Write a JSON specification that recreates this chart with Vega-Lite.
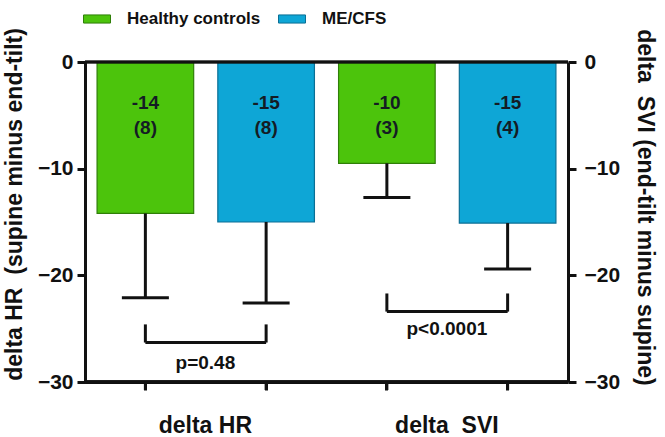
{
  "$schema": "https://vega.github.io/schema/vega-lite/v6.json",
  "width": 483,
  "height": 320,
  "autosize": {"type": "none"},
  "padding": {"left": 85, "top": 62, "right": 97, "bottom": 55},
  "background": "white",
  "config": {
    "font": "Liberation Sans",
    "view": {"stroke": null},
    "axis": {
      "domainColor": "#111",
      "domainWidth": 3,
      "tickColor": "#111",
      "tickWidth": 3,
      "tickSize": 8,
      "labelFont": "Liberation Sans",
      "labelFontSize": 21,
      "labelFontWeight": "bold",
      "labelColor": "#111",
      "titleFont": "Liberation Sans",
      "titleFontSize": 23,
      "titleFontWeight": "bold",
      "titleColor": "#111",
      "grid": false
    }
  },
  "datasets": {
    "bars": [
      {"bar": "HC_HR", "group": "Healthy controls", "measure": "delta HR", "mean": -14.2, "lower": -22.1, "label": "-14", "n": "(8)"},
      {"bar": "ME_HR", "group": "ME/CFS", "measure": "delta HR", "mean": -15.0, "lower": -22.6, "label": "-15", "n": "(8)"},
      {"bar": "HC_SVI", "group": "Healthy controls", "measure": "delta SVI", "mean": -9.5, "lower": -12.7, "label": "-10", "n": "(3)"},
      {"bar": "ME_SVI", "group": "ME/CFS", "measure": "delta SVI", "mean": -15.1, "lower": -19.4, "label": "-15", "n": "(4)"}
    ],
    "brackets": [
      {"from": "HC_HR", "to": "ME_HR", "top": -24.6, "bottom": -26.3, "p": "p=0.48", "py": -28.2},
      {"from": "HC_SVI", "to": "ME_SVI", "top": -21.7, "bottom": -23.4, "p": "p<0.0001", "py": -25.0}
    ]
  },
  "resolve": {"axis": {"y": "independent"}},
  "layer": [
    {
      "data": {"name": "bars"},
      "mark": {"type": "bar", "strokeWidth": 1.2},
      "encoding": {
        "x": {
          "field": "bar", "type": "nominal",
          "scale": {"type": "band", "domain": ["HC_HR", "ME_HR", "HC_SVI", "ME_SVI"], "paddingInner": 0.2, "paddingOuter": 0.1},
          "axis": {
            "title": null,
            "domain": true,
            "ticks": true,
            "labelAngle": 0,
            "labelExpr": "datum.value == 'HC_HR' ? 'delta HR' : datum.value == 'HC_SVI' ? 'delta\u00a0 SVI' : ''",
            "labelOffset": 60,
            "labelPadding": 24,
            "labelFontSize": 23
          }
        },
        "y": {
          "field": "mean", "type": "quantitative",
          "scale": {"domain": [-30, 0], "nice": false, "zero": true, "clamp": false},
          "axis": {
            "orient": "left",
            "values": [0, -10, -20, -30],
            "title": "delta HR\u00a0 (supine minus end-tilt)",
            "titlePadding": 11,
            "titleY": 142,
            "labelPadding": 4
          }
        },
        "color": {
          "field": "group", "type": "nominal",
          "scale": {"domain": ["Healthy controls", "ME/CFS"], "range": ["#4cc40c", "#0ea6d6"]},
          "legend": {
            "orient": "none",
            "legendX": -2,
            "legendY": -57,
            "direction": "horizontal",
            "title": null,
            "symbolType": "M-1,-0.3H1V0.3H-1Z",
            "symbolSize": 729,
            "symbolStrokeColor": "#333",
            "symbolStrokeWidth": 1,
            "symbolOpacity": 1,
            "labelFontSize": 17,
            "labelFontWeight": "bold",
            "labelColor": "#111",
            "labelOffset": 16,
            "columnPadding": 15
          }
        },
        "stroke": {
          "field": "group", "type": "nominal",
          "scale": {"domain": ["Healthy controls", "ME/CFS"], "range": ["#2f7f08", "#0a6f95"]},
          "legend": null
        }
      }
    },
    {
      "data": {"name": "bars"},
      "mark": {"type": "text", "fontSize": 19, "fontWeight": "bold", "color": "#141c24"},
      "encoding": {
        "x": {"field": "bar", "type": "nominal"},
        "y": {"datum": -3.8, "type": "quantitative", "axis": null},
        "text": {"field": "label"}
      }
    },
    {
      "data": {"name": "bars"},
      "mark": {"type": "text", "fontSize": 19, "fontWeight": "bold", "color": "#141c24"},
      "encoding": {
        "x": {"field": "bar", "type": "nominal"},
        "y": {"datum": -6.2, "type": "quantitative", "axis": null},
        "text": {"field": "n"}
      }
    },
    {
      "data": {"name": "bars"},
      "mark": {"type": "rule", "strokeWidth": 3, "color": "#111"},
      "encoding": {
        "x": {"field": "bar", "type": "nominal"},
        "y": {"field": "mean", "type": "quantitative", "axis": null},
        "y2": {"field": "lower"}
      }
    },
    {
      "data": {"name": "bars"},
      "mark": {"type": "tick", "thickness": 3, "size": 47, "color": "#111", "opacity": 1},
      "encoding": {
        "x": {"field": "bar", "type": "nominal"},
        "y": {
          "field": "lower", "type": "quantitative",
          "axis": {
            "orient": "right",
            "values": [0, -10, -20, -30],
            "title": "delta\u00a0 SVI (end-tilt minus supine)",
            "titlePadding": 13,
            "titleY": 145,
            "labelPadding": 8
          }
        }
      }
    },
    {
      "data": {"name": "bars"},
      "mark": {"type": "rule", "strokeWidth": 3, "color": "#111", "clip": false},
      "encoding": {
        "x": {"field": "bar", "type": "nominal"},
        "y": {"datum": -30, "type": "quantitative", "axis": null},
        "y2": {"datum": -30.75}
      }
    },
    {
      "data": {"name": "bars"},
      "mark": {"type": "rule", "strokeWidth": 3, "color": "#111"},
      "encoding": {
        "y": {"datum": -30, "type": "quantitative", "axis": null}
      }
    },
    {
      "data": {"name": "brackets"},
      "mark": {"type": "rule", "strokeWidth": 3, "color": "#111"},
      "encoding": {
        "x": {"field": "from", "type": "nominal"},
        "y": {"field": "top", "type": "quantitative", "axis": null},
        "y2": {"field": "bottom"}
      }
    },
    {
      "data": {"name": "brackets"},
      "mark": {"type": "rule", "strokeWidth": 3, "color": "#111"},
      "encoding": {
        "x": {"field": "to", "type": "nominal"},
        "y": {"field": "top", "type": "quantitative", "axis": null},
        "y2": {"field": "bottom"}
      }
    },
    {
      "data": {"name": "brackets"},
      "mark": {"type": "rule", "strokeWidth": 3, "color": "#111"},
      "encoding": {
        "x": {"field": "from", "type": "nominal"},
        "x2": {"field": "to"},
        "y": {"field": "bottom", "type": "quantitative", "axis": null}
      }
    },
    {
      "data": {"name": "brackets"},
      "mark": {"type": "text", "fontSize": 19, "fontWeight": "bold", "color": "#111", "dx": 60},
      "encoding": {
        "x": {"field": "from", "type": "nominal"},
        "y": {"field": "py", "type": "quantitative", "axis": null},
        "text": {"field": "p"}
      }
    },
    {
      "data": {"name": "bars"},
      "mark": {"type": "rule", "strokeWidth": 2.5, "color": "#111"},
      "encoding": {
        "y": {"datum": 0, "type": "quantitative", "axis": null}
      }
    }
  ]
}
